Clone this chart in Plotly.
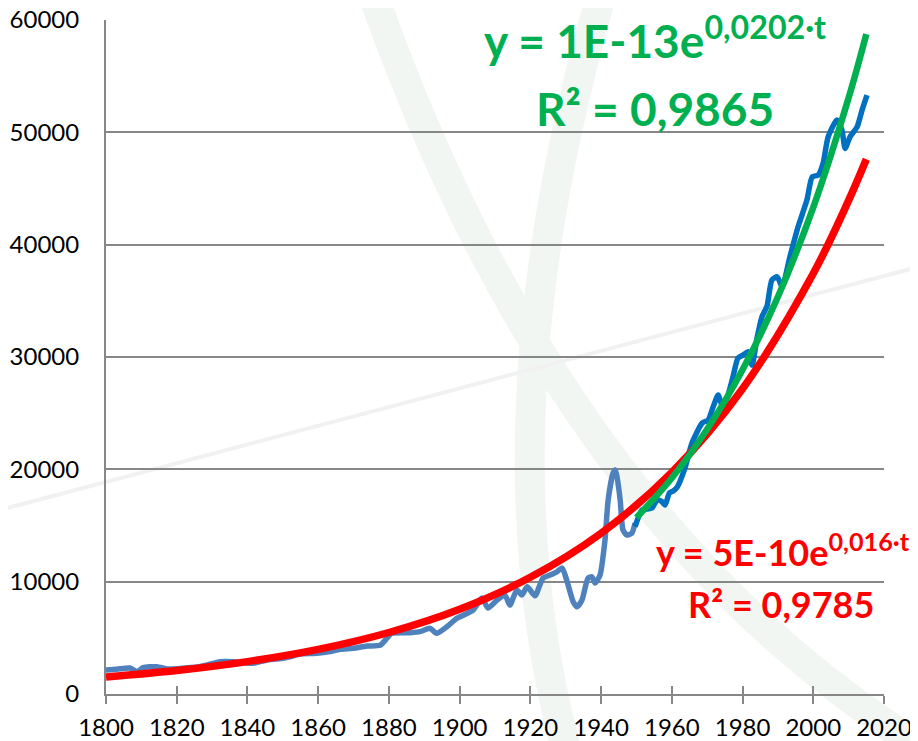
import plotly.graph_objects as go

# ---------------- data ----------------
hist_years = [1800, 1803, 1806.8, 1808.8, 1810.5, 1814.4, 1817.3, 1820, 1822.9, 1826,
              1828.6, 1832.2, 1836, 1838.5, 1841.6, 1845.5, 1850.1, 1852, 1854.9, 1859.7,
              1863.3, 1866.2, 1869.9, 1873.8, 1877.5, 1879.4, 1880.8, 1886, 1888.8, 1891.6,
              1893.5, 1896.4, 1899.2, 1900.1, 1903.8, 1906.3, 1908, 1910.6, 1912.8, 1914.2,
              1916.2, 1917.6, 1919.1, 1921.3, 1923.6, 1925.6, 1927.5, 1929, 1930.4, 1932.1,
              1933.2, 1934.6, 1936.3, 1937.4, 1938.3, 1939.7, 1941.1, 1942, 1943.4, 1944,
              1944.5, 1945.4, 1946.2, 1947.3, 1948.7, 1949.6]
hist_gdp = [2140, 2200, 2310, 1990, 2340, 2430, 2225, 2250, 2340, 2400,
            2580, 2875, 2875, 2800, 2730, 3030, 3180, 3300, 3560, 3620,
            3770, 3980, 4070, 4270, 4330, 4950, 5400, 5460, 5550, 5850,
            5400, 5990, 6740, 6880, 7470, 8540, 7650, 8370, 8810, 7920,
            9260, 8810, 9550, 8750, 10320, 10590, 10880, 11210, 10000, 8220,
            7770, 8370, 10320, 10440, 9880, 10590, 13700, 17270, 19670, 19940,
            19340, 17270, 14600, 14150, 14330, 15220]

modern_years = [1949.6, 1951.6, 1954.4, 1955.8, 1957.2, 1958.1, 1959.3, 1960.5, 1961.5, 1963.7,
                1965.7, 1968.6, 1970.3, 1971.7, 1973.1, 1974.2, 1975.1, 1977.3, 1978.7, 1980.1,
                1981.6, 1982.7, 1984.1, 1985.5, 1986.9, 1988.3, 1989.8, 1991.2, 1993.4, 1995.7,
                1998.2, 1999.7, 2001.4, 2002.8, 2004.2, 2006.7, 2008.1, 2009, 2010.4, 2012.4,
                2013.8, 2015.2]
modern_gdp = [14900, 16380, 16550, 17270, 17120, 16820, 17900, 18100, 18400, 20110,
              22340, 24120, 24390, 25570, 26610, 25720, 25900, 28240, 29900, 30170,
              30460, 29280, 31680, 33600, 34500, 36850, 37140, 36250, 38920, 41590,
              43970, 46040, 46190, 47260, 49600, 51090, 50200, 48570, 49600, 50490,
              51980, 53310]

# exponential trend curves
red_years = [1800, 1820, 1840, 1860, 1880, 1900, 1920, 1940, 1960, 1980, 2000, 2010, 2015]
red_vals = [1520, 2094, 2885, 3975, 5476, 7544, 10393, 14318, 19726, 27175, 37438, 43940, 47600]

green_years = [1950, 1960, 1970, 1980, 1990, 2000, 2010, 2015]
green_vals = [15700, 19234, 23563, 28866, 35363, 43323, 53074, 58742]

x_ticks = [1800, 1820, 1840, 1860, 1880, 1900, 1920, 1940, 1960, 1980, 2000, 2020]
y_ticks = [0, 10000, 20000, 30000, 40000, 50000, 60000]

green_eq = "y = 1E-13e<sup>0,0202·t</sup>"
green_r2 = "R² = 0,9865"
red_eq = "y = 5E-10e<sup>0,016·t</sup>"
red_r2 = "R² = 0,9785"

# ---------------- figure ----------------
fig = go.Figure()

fig.add_trace(go.Scatter(x=hist_years, y=hist_gdp, mode="lines",
                         line=dict(color="#4F81BD", width=5.5, shape="spline", smoothing=0.6),
                         showlegend=False, hoverinfo="skip"))
fig.add_trace(go.Scatter(x=modern_years, y=modern_gdp, mode="lines",
                         line=dict(color="#0070C0", width=5.5, shape="spline", smoothing=0.6),
                         showlegend=False, hoverinfo="skip"))
fig.add_trace(go.Scatter(x=red_years, y=red_vals, mode="lines",
                         line=dict(color="#FF0000", width=7.5, shape="spline"),
                         showlegend=False, hoverinfo="skip"))
fig.add_trace(go.Scatter(x=green_years, y=green_vals, mode="lines",
                         line=dict(color="#00B050", width=6.5, shape="spline"),
                         showlegend=False, hoverinfo="skip"))

axis_col = "#878787"
font_fam = "Lato, 'Open Sans', sans-serif"
tick_size = 24

# the page body adds an 8px offset; margins compensate so the plot area
# lands at x 106..884, y 20..694 of the window
fig.update_layout(
    width=918, height=741,
    margin=dict(l=98, r=42, t=12, b=55, autoexpand=False),
    paper_bgcolor="white", plot_bgcolor="rgba(0,0,0,0)",
    font=dict(family=font_fam, color="black", size=tick_size),
    xaxis=dict(range=[1800, 2020], tickvals=x_ticks, showgrid=False, zeroline=False,
               showline=True, linecolor=axis_col, linewidth=2, automargin=False,
               ticks="outside", ticklen=8, tickwidth=2, tickcolor=axis_col,
               ticklabelstandoff=3, ticklabeloverflow="allow",
               tickfont=dict(size=tick_size)),
    xaxis2=dict(range=[1800, 2020], tickvals=x_ticks, overlaying="x", matches="x",
                side="bottom", anchor="y", showgrid=False, zeroline=False, showline=False,
                ticks="inside", ticklen=8, tickwidth=2, tickcolor=axis_col,
                showticklabels=False, automargin=False),
    yaxis=dict(range=[0, 60000], tickvals=y_ticks, tickformat="d", showgrid=True,
               gridcolor=axis_col, gridwidth=2, zeroline=False, showline=True,
               linecolor=axis_col, linewidth=2, automargin=False,
               ticks="", ticklabelstandoff=20, ticklabeloverflow="allow",
               tickfont=dict(size=tick_size)),
)

# invisible trace so xaxis2 (inner tick marks) is drawn
fig.add_trace(go.Scatter(x=[1800], y=[0], xaxis="x2", mode="markers",
                         marker=dict(opacity=0), showlegend=False, hoverinfo="skip"))


def px2paper(px, py):
    return (px - 106) / 778.0, (694 - py) / 674.0


def path_from(points):
    (x0, y0) = px2paper(*points[0])
    (cx, cy) = px2paper(*points[1])
    (x1, y1) = px2paper(*points[2])
    return f"M {x0},{y0} Q {cx},{cy} {x1},{y1}"


# faint watermark behind the chart
fig.add_shape(type="path", xref="paper", yref="paper", layer="below",
              path=path_from([(375, 0), (560, 520), (918, 745)]),
              line=dict(color="#f2f6f3", width=30))
fig.add_shape(type="path", xref="paper", yref="paper", layer="below",
              path=path_from([(600, 0), (480, 420), (565, 745)]),
              line=dict(color="#f2f6f3", width=30))
fig.add_shape(type="line", xref="paper", yref="paper", layer="below",
              x0=px2paper(0, 510)[0], y0=px2paper(0, 510)[1],
              x1=px2paper(918, 267)[0], y1=px2paper(918, 267)[1],
              line=dict(color="#f1f1f1", width=4))

green_font = dict(family=font_fam, size=46, color="#00B050")
red_font = dict(family=font_fam, size=36, color="#FF0000")

fig.add_annotation(xref="paper", yref="paper", x=px2paper(655, 0)[0], y=px2paper(0, 37)[1],
                   text=f"<b>{green_eq}</b>", showarrow=False, font=green_font,
                   xanchor="center", yanchor="middle")
fig.add_annotation(xref="paper", yref="paper", x=px2paper(655, 0)[0], y=px2paper(0, 109)[1],
                   text=f"<b>{green_r2}</b>", showarrow=False, font=green_font,
                   xanchor="center", yanchor="middle")
fig.add_annotation(xref="paper", yref="paper", x=px2paper(783, 0)[0], y=px2paper(0, 550)[1],
                   text=f"<b>{red_eq}</b>", showarrow=False, font=red_font,
                   xanchor="center", yanchor="middle")
fig.add_annotation(xref="paper", yref="paper", x=px2paper(781, 0)[0], y=px2paper(0, 604)[1],
                   text=f"<b>{red_r2}</b>", showarrow=False, font=red_font,
                   xanchor="center", yanchor="middle")

fig.write_html("out.html")
